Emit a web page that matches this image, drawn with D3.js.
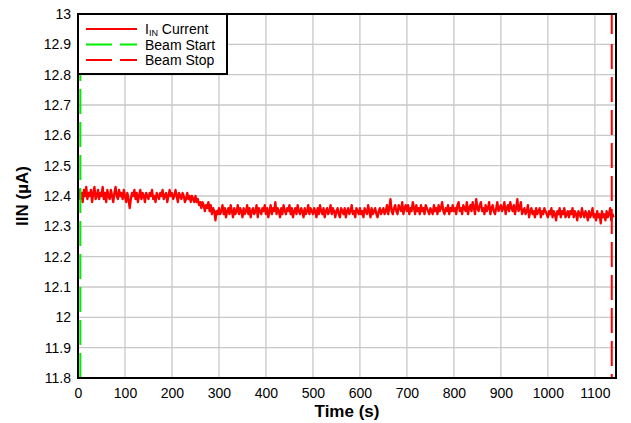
<!DOCTYPE html>
<html>
<head>
<meta charset="utf-8">
<script src="https://cdn.jsdelivr.net/npm/d3@7"></script>
<style>
  html, body { margin: 0; padding: 0; background: #fff; }
  svg { display: block; font-family: Arial, "Liberation Sans", sans-serif; }
</style>
</head>
<body>
<svg id="chart" width="631" height="423"></svg>
<script>
// ---- data ----
const timeStep = 2.5; // seconds between samples
const currentValues = [
  12.40,12.42,12.39,12.41,12.38,12.42,12.40,12.43,12.39,12.41,12.40,12.42,12.38,12.41,12.43,12.39,12.40,12.42,12.39,12.41,
  12.40,12.43,12.39,12.41,12.38,12.42,12.40,12.39,12.42,12.40,12.38,12.41,12.43,12.40,12.39,12.42,12.40,12.41,12.39,12.42,
  12.40,12.38,12.41,12.39,12.36,12.39,12.41,12.40,12.42,12.39,12.41,12.38,12.40,12.42,12.39,12.41,12.40,12.38,12.41,12.40,
  12.39,12.41,12.40,12.42,12.39,12.40,12.38,12.41,12.40,12.39,12.41,12.40,12.42,12.39,12.40,12.41,12.38,12.40,12.42,12.40,
  12.41,12.39,12.40,12.42,12.40,12.38,12.41,12.40,12.39,12.41,12.40,12.38,12.39,12.41,12.39,12.40,12.38,12.40,12.39,12.38,
  12.40,12.38,12.39,12.37,12.38,12.36,12.38,12.37,12.35,12.37,12.36,12.38,12.35,12.37,12.34,12.36,12.35,12.32,12.35,12.34,
  12.36,12.34,12.35,12.37,12.34,12.36,12.33,12.35,12.36,12.34,12.37,12.35,12.33,12.36,12.34,12.35,12.37,12.34,12.36,12.35,
  12.33,12.36,12.34,12.35,12.37,12.34,12.36,12.33,12.35,12.36,12.34,12.35,12.37,12.33,12.36,12.35,12.34,12.36,12.35,12.37,
  12.34,12.36,12.33,12.35,12.37,12.34,12.36,12.35,12.38,12.34,12.36,12.35,12.33,12.36,12.34,12.37,12.35,12.34,12.36,12.35,
  12.37,12.34,12.36,12.33,12.35,12.36,12.34,12.37,12.35,12.34,12.36,12.35,12.33,12.36,12.34,12.35,12.37,12.34,12.36,12.35,
  12.34,12.36,12.35,12.33,12.36,12.34,12.37,12.35,12.34,12.36,12.33,12.35,12.36,12.34,12.35,12.37,12.34,12.36,12.35,12.33,
  12.35,12.36,12.34,12.33,12.36,12.35,12.34,12.36,12.33,12.35,12.36,12.34,12.35,12.37,12.34,12.35,12.33,12.36,12.35,12.34,
  12.36,12.34,12.35,12.33,12.36,12.35,12.34,12.37,12.35,12.33,12.36,12.34,12.35,12.36,12.34,12.33,12.35,12.36,12.34,12.35,
  12.36,12.34,12.35,12.37,12.34,12.36,12.39,12.35,12.34,12.36,12.37,12.35,12.34,12.37,12.36,12.35,12.38,12.34,12.36,12.37,
  12.35,12.37,12.34,12.36,12.35,12.38,12.36,12.34,12.37,12.35,12.36,12.34,12.37,12.35,12.36,12.34,12.37,12.36,12.35,12.34,
  12.36,12.35,12.34,12.37,12.35,12.36,12.34,12.37,12.35,12.36,12.38,12.35,12.34,12.36,12.35,12.37,12.34,12.36,12.35,12.37,
  12.35,12.36,12.34,12.37,12.38,12.35,12.36,12.34,12.37,12.36,12.35,12.38,12.34,12.36,12.37,12.35,12.38,12.36,12.34,12.39,
  12.36,12.35,12.37,12.38,12.35,12.36,12.34,12.37,12.35,12.36,12.38,12.34,12.36,12.37,12.35,12.34,12.36,12.38,12.35,12.36,
  12.37,12.35,12.36,12.38,12.34,12.36,12.37,12.35,12.38,12.36,12.35,12.37,12.34,12.36,12.39,12.35,12.36,12.38,12.34,12.35,
  12.36,12.34,12.35,12.37,12.33,12.35,12.36,12.34,12.35,12.33,12.36,12.34,12.35,12.36,12.33,12.35,12.34,12.36,12.35,12.34,
  12.33,12.35,12.34,12.36,12.33,12.35,12.34,12.32,12.35,12.34,12.36,12.33,12.35,12.34,12.36,12.33,12.34,12.35,12.33,12.35,
  12.34,12.36,12.33,12.35,12.34,12.32,12.35,12.34,12.33,12.36,12.34,12.33,12.35,12.34,12.32,12.35,12.33,12.34,12.36,12.33,
  12.34,12.32,12.35,12.33,12.34,12.31,12.35,12.33,12.34,12.32,12.35,12.33,12.34,12.36,12.32,12.34,12.33
];
const beamStart = 5;
const beamStop = 1136;
const xTicks = [0,100,200,300,400,500,600,700,800,900,1000,1100];
const yTicks = [11.8,11.9,12,12.1,12.2,12.3,12.4,12.5,12.6,12.7,12.8,12.9,13];
const xDomain = [0, 1145];
const yDomain = [11.8, 13];
const legendItems = [
  { label: "Current", sub: "IN", pre: "I", color: "#ff0000", dash: null },
  { label: "Beam Start", color: "#00ee00", dash: "26,8" },
  { label: "Beam Stop", color: "#ff0000", dash: "26,8" }
];

// ---- layout ----
const margin = { left: 78, right: 15, top: 14, bottom: 45 };
const W = 631, H = 423;
const FONT = "Arial, 'Liberation Sans', sans-serif";
const svg = d3.select("#chart");
const x = d3.scaleLinear().domain(xDomain).range([margin.left, W - margin.right]);
const y = d3.scaleLinear().domain(yDomain).range([H - margin.bottom, margin.top]);

const data = currentValues.map((v, i) => ({ t: i * timeStep, v }));

// grid
const grid = svg.append("g");
grid.selectAll("line.vx").data(xTicks.slice(1)).enter().append("line")
  .attr("x1", d => x(d)).attr("x2", d => x(d))
  .attr("y1", y(yDomain[0])).attr("y2", y(yDomain[1]))
  .attr("stroke", "#c8c8c8").attr("stroke-width", 1.3);
grid.selectAll("line.hy").data(yTicks.slice(1)).enter().append("line")
  .attr("x1", x(xDomain[0])).attr("x2", x(xDomain[1]))
  .attr("y1", d => y(d)).attr("y2", d => y(d))
  .attr("stroke", "#c8c8c8").attr("stroke-width", 1.3);

// axes (labels only)
const xAxis = d3.axisBottom(x).tickValues(xTicks).tickSize(0).tickPadding(10).tickFormat(d3.format("d"));
const gx = svg.append("g").attr("transform", `translate(0,${y(yDomain[0])})`).call(xAxis);
gx.select(".domain").remove();
gx.selectAll("text").attr("font-size", 14).attr("fill", "#000").attr("font-family", FONT);

const yAxis = d3.axisLeft(y).tickValues(yTicks).tickSize(0).tickPadding(7).tickFormat(d => d3.format("")(+d.toFixed(1)));
const gy = svg.append("g").attr("transform", `translate(${x(xDomain[0])},0)`).call(yAxis);
gy.select(".domain").remove();
gy.selectAll("text").attr("font-size", 14).attr("fill", "#000").attr("font-family", FONT);

// data line
const line = d3.line().x(d => x(d.t)).y(d => y(d.v));
svg.append("path").datum(data)
  .attr("fill", "none").attr("stroke", "#ff0000").attr("stroke-width", 2.3)
  .attr("stroke-linejoin", "round").attr("d", line);

// beam lines
svg.append("line").attr("x1", x(beamStart)).attr("x2", x(beamStart))
  .attr("y1", y(yDomain[0])).attr("y2", y(yDomain[1]))
  .attr("stroke", "#00ee00").attr("stroke-width", 2).attr("stroke-dasharray", "25,8");
svg.append("line").attr("x1", x(beamStop)).attr("x2", x(beamStop))
  .attr("y1", y(yDomain[1])).attr("y2", y(yDomain[0]))
  .attr("stroke", "#ff0000").attr("stroke-width", 2).attr("stroke-dasharray", "20,10,25,8,25,8,25,8,25,8,25,8,25,8,25,8,25,8,25,8,25,8,25,8,25,8,25,8");

// frame
svg.append("rect")
  .attr("x", x(xDomain[0])).attr("y", y(yDomain[1]))
  .attr("width", x(xDomain[1]) - x(xDomain[0]))
  .attr("height", y(yDomain[0]) - y(yDomain[1]))
  .attr("fill", "none").attr("stroke", "#000").attr("stroke-width", 2);

// axis titles
svg.append("text").attr("x", (x(xDomain[0]) + x(xDomain[1])) / 2).attr("y", 417)
  .attr("text-anchor", "middle").attr("font-size", 17).attr("font-weight", "bold")
  .attr("font-family", FONT).text("Time (s)");
svg.append("text").attr("transform", `translate(28,${(y(yDomain[0]) + y(yDomain[1])) / 2}) rotate(-90)`)
  .attr("text-anchor", "middle").attr("font-size", 17).attr("font-weight", "bold")
  .attr("font-family", FONT).text("IIN (µA)");

// legend
const lg = svg.append("g");
lg.append("rect").attr("x", 78).attr("y", 14).attr("width", 149).attr("height", 60)
  .attr("fill", "#fff").attr("stroke", "#000").attr("stroke-width", 2);
legendItems.forEach((it, i) => {
  const cy = 29 + i * 15.5;
  lg.append("line").attr("x1", 86).attr("x2", 137).attr("y1", cy).attr("y2", cy)
    .attr("stroke", it.color).attr("stroke-width", 2)
    .attr("stroke-dasharray", it.dash);
  const t = lg.append("text").attr("x", 145).attr("y", cy + 5).attr("font-size", 14)
    .attr("fill", "#000").attr("font-family", FONT);
  if (it.pre) {
    t.append("tspan").text(it.pre);
    t.append("tspan").attr("font-size", 9).attr("dy", 2).text(it.sub);
    t.append("tspan").attr("dy", -2).text(" " + it.label);
  } else {
    t.text(it.label);
  }
});
</script>
</body>
</html>
